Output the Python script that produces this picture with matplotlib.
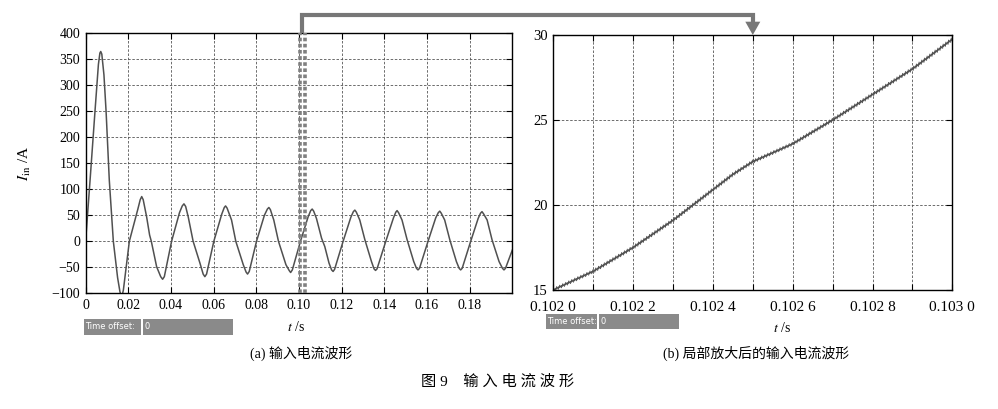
import numpy as np
import matplotlib
matplotlib.use("Agg")
import matplotlib.pyplot as plt
import matplotlib.patheffects as pe
from matplotlib.patches import Rectangle, Polygon

plt.rcParams['font.family'] = ['Liberation Serif', 'Noto Sans CJK SC']
plt.rcParams['mathtext.fontset'] = 'stix'
plt.rcParams['axes.unicode_minus'] = True

# (a) input current waveform: time (s) / current (A)
t_a = [0.0, 0.0021, 0.0044, 0.0060, 0.0067, 0.0071, 0.0076, 0.0086, 0.0096, 0.0111,
       0.0130, 0.0150, 0.0161, 0.0169, 0.0177, 0.0205,
       0.0245, 0.0256, 0.0263, 0.0270, 0.0286, 0.0300, 0.0308, 0.0333, 0.0352, 0.0361, 0.0369, 0.0403,
       0.0440, 0.0453, 0.0461, 0.0469, 0.0481, 0.0504, 0.0536, 0.0551, 0.0559, 0.0567, 0.0601,
       0.0638, 0.0650, 0.0656, 0.0663, 0.0684, 0.0704, 0.0739, 0.0752, 0.0759, 0.0767, 0.0801,
       0.0838, 0.0852, 0.0859, 0.0866, 0.0882, 0.0904, 0.0939, 0.0954, 0.0961, 0.0969, 0.1007,
       0.1043, 0.1055, 0.1062, 0.1069, 0.1082, 0.1106, 0.1121, 0.1141, 0.1153, 0.1160, 0.1167, 0.1207,
       0.1243, 0.1255, 0.1262, 0.1269, 0.1285, 0.1309, 0.1340, 0.1352, 0.1359, 0.1366, 0.1407,
       0.1443, 0.1454, 0.1460, 0.1467, 0.1483, 0.1507, 0.1538, 0.1551, 0.1558, 0.1565, 0.1605,
       0.1641, 0.1653, 0.1660, 0.1667, 0.1683, 0.1707, 0.1738, 0.1751, 0.1758, 0.1765, 0.1805,
       0.1840, 0.1851, 0.1858, 0.1865, 0.1882, 0.1905, 0.1938, 0.1954, 0.1961, 0.1968, 0.2000]
i_a = [0, 118, 250, 340, 362, 365, 360, 320, 250, 118,
       0, -70, -97, -108, -94, 0,
       62, 80, 86, 80, 47, 12, 0, -49, -68, -73, -68, 0,
       55, 68, 72, 67, 47, 0, -42, -63, -68, -63, 0,
       52, 65, 68, 64, 41, 0, -45, -59, -63, -58, 0,
       50, 62, 65, 61, 41, 0, -45, -56, -60, -55, 0,
       47, 59, 62, 58, 44, 6, -10, -42, -55, -58, -54, 0,
       46, 57, 60, 56, 41, 3, -39, -53, -56, -53, 0,
       45, 56, 59, 55, 41, 3, -39, -52, -55, -52, 0,
       45, 55, 58, 54, 41, 3, -39, -52, -55, -52, 0,
       44, 54, 57, 53, 41, 3, -39, -52, -55, -52, -17]

# (b) zoomed section 0.102 s - 0.103 s
t_b = [0.102003, 0.1021, 0.1022, 0.1023, 0.1024, 0.10245, 0.1025, 0.1026, 0.1027, 0.1028, 0.1029, 0.1030]
i_b = [15.04, 16.1, 17.5, 19.1, 20.9, 21.8, 22.55, 23.6, 25.0, 26.5, 28.0, 29.75]

xticks_a = [0, 0.02, 0.04, 0.06, 0.08, 0.10, 0.12, 0.14, 0.16, 0.18]
xlabels_a = ['0', '0.02', '0.04', '0.06', '0.08', '0.10', '0.12', '0.14', '0.16', '0.18']
yticks_a = [-100, -50, 0, 50, 100, 150, 200, 250, 300, 350, 400]
xticks_b = [0.1020, 0.1021, 0.1022, 0.1023, 0.1024, 0.1025, 0.1026, 0.1027, 0.1028, 0.1029, 0.1030]
xlabels_b = ['0.102 0', '', '0.102 2', '', '0.102 4', '', '0.102 6', '', '0.102 8', '', '0.103 0']
yticks_b = [15, 20, 25, 30]

window_a = [0.1004, 0.1028]   # dotted window marks on (a)
arrow_from = 0.1016           # arrow start on (a)
arrow_to = 0.1025             # arrow end on (b)

W, H = 998, 409
fig = plt.figure(figsize=(W / 100, H / 100), dpi=100)
ax1 = fig.add_axes([85.6 / W, 1 - 293.3 / H, (512.3 - 85.6) / W, (293.3 - 33.3) / H])
ax2 = fig.add_axes([553.3 / W, 1 - 290 / H, (952.3 - 553.3) / W, (290 - 35) / H])

line_col = '#505050'
grid_kw = dict(color='#555555', linestyle=(0, (3, 2)), linewidth=0.6)

ax1.plot(t_a, i_a, color=line_col, lw=1.1)
ax1.set_xlim(0, 0.2)
ax1.set_ylim(-100, 400)
ax1.set_xticks(xticks_a)
ax1.set_xticklabels(xlabels_a)
ax1.set_yticks(yticks_a)
ax1.grid(True, **grid_kw)
for x in window_a:
    ax1.axvline(x, color='#808080', lw=2.6, linestyle=(0, (1.0, 0.7)), zorder=5)

ln, = ax2.plot(t_b, i_b, color=line_col, lw=1.2)
ln.set_path_effects([
    pe.TickedStroke(spacing=2.4, angle=45, length=0.6, linewidth=0.7, foreground=line_col),
    pe.TickedStroke(spacing=2.4, angle=-135, length=0.6, linewidth=0.7, foreground=line_col),
    pe.Normal()])
ax2.set_xlim(0.1020, 0.1030)
ax2.set_ylim(15, 30)
ax2.set_xticks(xticks_b)
ax2.set_xticklabels(xlabels_b)
ax2.set_yticks(yticks_b)
ax2.grid(True, **grid_kw)

for ax, fs in ((ax1, 10), (ax2, 11)):
    ax.tick_params(direction='in', top=True, right=True, length=4, width=0.8, labelsize=fs, pad=4)
    for s in ax.spines.values():
        s.set_linewidth(1.0)
ax2.tick_params(axis='y', labelsize=10.5)
ax2.tick_params(axis='x', pad=8)

ax1.set_ylabel(r'$I_{\rm in}$ /A', fontsize=11, labelpad=13)
fig.text(296 / W, 1 - 327 / H, r'$t$ /s', fontsize=10, ha='center', va='center')
fig.text(782 / W, 1 - 328 / H, r'$t$ /s', fontsize=10, ha='center', va='center')

fig.text(301 / W, 1 - 353 / H, '(a) 输入电流波形', fontsize=10, ha='center', va='center')
fig.text(756 / W, 1 - 353 / H, '(b) 局部放大后的输入电流波形', fontsize=10, ha='center', va='center')
fig.text(498 / W, 1 - 382 / H, '图 9    输 入 电 流 波 形', fontsize=11, ha='center', va='center')

# overlay in pixel coordinates for the arrow and the "Time offset" boxes
ov = fig.add_axes([0, 0, 1, 1], zorder=10)
ov.set_xlim(0, W)
ov.set_ylim(H, 0)
ov.axis('off')
ov.patch.set_alpha(0)

to_px = ov.transData.inverted()
x1, y1 = to_px.transform(ax1.transData.transform((arrow_from, 400)))
x2, y2 = to_px.transform(ax2.transData.transform((arrow_to, 30)))
bar_y = 15.3
arrow_col = '#777777'
ov.plot([x1, x1, x2, x2], [y1, bar_y, bar_y, y2 - 12], color=arrow_col, lw=3.0,
        solid_joinstyle='miter', solid_capstyle='butt')
ov.add_patch(Polygon([(x2 - 7.5, y2 - 13.3), (x2 + 7.5, y2 - 13.3), (x2, y2)],
                     closed=True, color=arrow_col, lw=0))

for bx, by, w1, w2 in ((84, 319, 57, 90), (545.7, 313.5, 51, 80)):
    ov.add_patch(Rectangle((bx, by), w1, 15.5, color='#8a8a8a', lw=0))
    ov.add_patch(Rectangle((bx + w1 + 2, by), w2, 15.5, color='#8a8a8a', lw=0))
    ov.text(bx + 1.5, by + 7.8, 'Time offset:', color='white', fontsize=6,
            family='DejaVu Sans', va='center', ha='left')
    ov.text(bx + w1 + 3.5, by + 7.8, '0', color='white', fontsize=6,
            family='DejaVu Sans', va='center', ha='left')

fig.savefig('out.png', dpi=100)
